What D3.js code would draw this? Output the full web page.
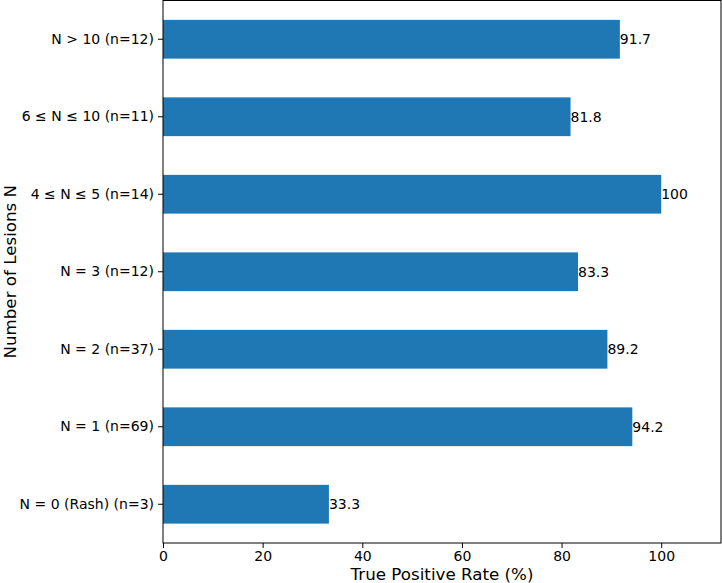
<!DOCTYPE html>
<html><head><meta charset="utf-8">
<script src="https://cdn.jsdelivr.net/npm/d3@7"></script>
<style>body{margin:0;background:#fff}svg{display:block}</style>
</head><body>
<script>
const categories = ["N = 0 (Rash) (n=3)", "N = 1 (n=69)", "N = 2 (n=37)", "N = 3 (n=12)", "4 \u2264 N \u2264 5 (n=14)", "6 \u2264 N \u2264 10 (n=11)", "N > 10 (n=12)"];
const values = [33.3, 94.2, 89.2, 83.3, 100, 81.8, 91.7];
const valueLabels = ["33.3", "94.2", "89.2", "83.3", "100", "81.8", "91.7"];
const xTicks = [0, 20, 40, 60, 80, 100];

const W = 722, H = 583;
const m = {left: 163, right: 1, top: 0.5, bottom: 40};
const svg = d3.select("body").append("svg").attr("width", W).attr("height", H)
  .style("font-family", "DejaVu Sans, sans-serif");

const x = d3.scaleLinear().domain([0, 112]).range([m.left, W - m.right]);
// categories bottom-to-top
const y = d3.scaleBand().domain(d3.range(categories.length)).range([H - m.bottom, m.top]).paddingInner(0.5).paddingOuter(0.25);

svg.append("g").selectAll("rect").data(values).join("rect")
  .attr("x", x(0)).attr("y", (d, i) => y(i))
  .attr("width", d => x(d) - x(0)).attr("height", y.bandwidth())
  .attr("fill", "#1f77b4");

svg.append("g").selectAll("text").data(values).join("text")
  .attr("x", d => x(d)).attr("y", (d, i) => y(i) + y.bandwidth() / 2)
  .attr("dy", "0.36em").attr("font-size", 14).attr("fill", "#000")
  .text((d, i) => valueLabels[i]);

const xAxis = svg.append("g").attr("transform", `translate(0,${H - m.bottom})`)
  .call(d3.axisBottom(x).tickValues(xTicks).tickSize(5).tickPadding(3).tickFormat(d3.format("d")));
xAxis.selectAll("text").attr("font-size", 14).attr("fill", "#000").style("font-family", "DejaVu Sans, sans-serif");
xAxis.select(".domain").remove();

const yAxis = svg.append("g").attr("transform", `translate(${m.left},0)`)
  .call(d3.axisLeft(y).tickFormat(i => categories[i]).tickSize(5).tickPadding(4));
yAxis.selectAll("text").attr("font-size", 14).attr("fill", "#000").style("font-family", "DejaVu Sans, sans-serif");
yAxis.select(".domain").remove();

svg.append("rect").attr("x", m.left).attr("y", m.top)
  .attr("width", W - m.right - m.left).attr("height", H - m.bottom - m.top)
  .attr("fill", "none").attr("stroke", "#000").attr("stroke-width", 1);

svg.append("text").attr("x", (m.left + W - m.right) / 2).attr("y", 580)
  .attr("text-anchor", "middle").attr("font-size", 16.7).text("True Positive Rate (%)");
svg.append("text").attr("transform", `translate(16,${(m.top + H - m.bottom) / 2}) rotate(-90)`)
  .attr("text-anchor", "middle").attr("font-size", 16.7).text("Number of Lesions N");
</script>
</body></html>
